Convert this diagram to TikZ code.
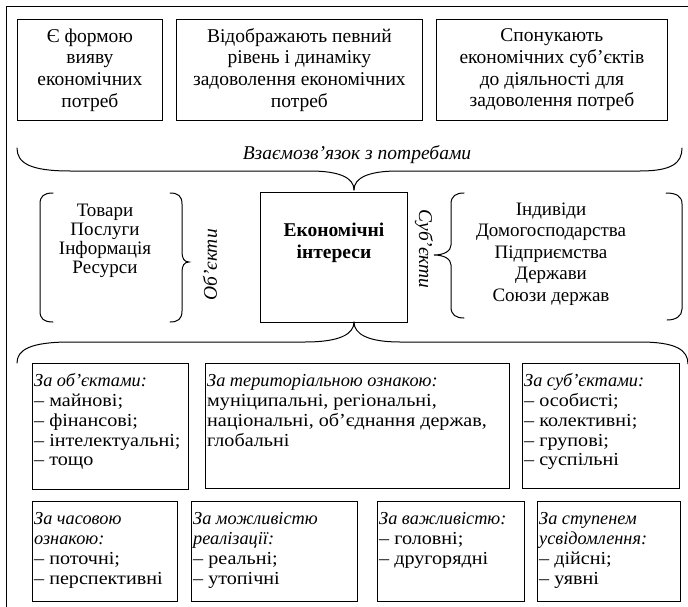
\documentclass[tikz,border=0pt]{standalone}
\usepackage{fontspec}
\setmainfont{Liberation Serif}
\newfontfamily\widefont{Liberation Serif}[FakeStretch=1.1]
\newcommand\cathead[1]{{\rmfamily\itshape #1}}
\usetikzlibrary{calc}
\begin{document}
\begin{tikzpicture}[x=1pt,y=-1pt,
  frame/.style={line width=1pt},
  box/.style={draw, line width=0.8pt, inner sep=0pt, anchor=north west},
  topbox/.style={box, align=center, font=\fontsize{19.5}{21.7}\selectfont},
  catbox/.style={box},
  cattext/.style={anchor=north west, inner sep=0pt, align=left,
    font=\widefont\fontsize{18.3}{19.7}\selectfont},
  listtext/.style={align=center, inner sep=0pt},
  sidelabel/.style={font=\fontsize{19.5}{21}\selectfont\itshape, inner sep=0pt},
  brace/.style={line width=1pt, line cap=round}
]
\useasboundingbox (0,0) rectangle (688,607);
\clip (0,0) rectangle (688,607);
\draw[frame] (6,7) rectangle (700,620);

% upper row: how interests relate to needs
\node[topbox, minimum width=145, minimum height=101] (b1) at (17,19)
  {Є формою\\вияву\\економічних\\потреб};
\node[topbox, minimum width=246, minimum height=101] (b2) at (176,19)
  {Відображають певний\\рівень і динаміку\\задоволення економічних\\потреб};
\node[topbox, minimum width=231, minimum height=101] (b3) at (436,19)
  {Спонукають\\економічних суб’єктів\\до діяльності для\\задоволення потреб};

\node[sidelabel] (rel) at (357,155) {Взаємозв’язок з потребами};

% central concept
\node[box, minimum width=147, minimum height=130] (ei) at (260,192) {};
\node[listtext, font=\fontsize{19.5}{22}\selectfont\bfseries] (eit) at (334,243)
  {Економічні\\інтереси};

\coordinate (ttip) at (354,190);
\coordinate (btip) at (354,322);

% brace above the centre
\draw[brace] (17,148) .. controls (17,163) and (30,171) .. (70,171)
  -- (310,171) .. controls (340,171) and (354,178) .. (ttip);
\draw[brace] (ttip) .. controls (354,178) and (368,171) .. (398,171)
  -- (640,171) .. controls (672,171) and (682,163) .. (682,148);

% brace below the centre
\draw[brace] (btip) .. controls (354,334) and (340,342) .. (305,342)
  -- (70,342) .. controls (30,342) and (17,350) .. (17,363);
\draw[brace] (btip) .. controls (354,334) and (368,342) .. (400,342)
  -- (640,342) .. controls (676,342) and (688,350) .. (688,364);

% objects
\node[listtext, font=\fontsize{19}{19.2}\selectfont] (objs) at (105,241)
  {Товари\\Послуги\\Інформація\\Ресурси};
\draw[brace] (53,193) .. controls (44,193) and (40,196) .. (40,204)
  -- (40,311) .. controls (40,319) and (44,322) .. (53,322);
\coordinate (otip) at (189,262);
\draw[brace] (170,193) .. controls (178,193) and (182,196) .. (182,204)
  -- (182,252) .. controls (182,258) and (184,262) .. (otip)
  .. controls (184,262) and (182,266) .. (182,272)
  -- (182,311) .. controls (182,319) and (178,322) .. (170,322);
\node[sidelabel, rotate=90] (objl) at (210,265) {Об’єкти};

% subjects
\node[sidelabel, rotate=-90] (subl) at (424,249) {Суб’єкти};
\coordinate (stip) at (434,255);
\draw[brace] (464,193) .. controls (456,193) and (451,196) .. (451,204)
  -- (451,245) .. controls (451,251) and (444,255) .. (stip)
  .. controls (444,255) and (451,259) .. (451,265)
  -- (451,307) .. controls (451,315) and (456,318) .. (464,318);
\draw[brace] (666,193) .. controls (676,193) and (682,196) .. (682,204)
  -- (682,309) .. controls (682,316) and (676,320) .. (667,320);
\node[listtext, font=\fontsize{19}{21.5}\selectfont] (subs) at (551,254)
  {Індивіди\\Домогосподарства\\Підприємства\\Держави\\Союзи держав};

% classification boxes, first row
\node[catbox, minimum width=156, minimum height=126] (ca) at (32,363) {};
\node[cattext] (cat) at ($(ca.north west)+(2,10)$)
  {\strut\cathead{За об’єктами:}\\– майнові;\\– фінансові;\\– інтелектуальні;\\– тощо};
\node[catbox, minimum width=304, minimum height=125] (cb) at (205,363) {};
\node[cattext] (cbt) at ($(cb.north west)+(2,10)$)
  {\strut\cathead{За територіальною ознакою:}\\муніципальні, регіональні,\\національні, об’єднання держав,\\глобальні};
\node[catbox, minimum width=157, minimum height=125] (cc) at (522,363) {};
\node[cattext] (cct) at ($(cc.north west)+(2,10)$)
  {\strut\cathead{За суб’єктами:}\\– особисті;\\– колективні;\\– групові;\\– суспільні};

% classification boxes, second row
\node[catbox, minimum width=145, minimum height=100] (cd) at (32,501) {};
\node[cattext] (cdt) at ($(cd.north west)+(2,10)$)
  {\strut\cathead{За часовою}\\\cathead{ознакою:}\\– поточні;\\– перспективні};
\node[catbox, minimum width=166, minimum height=100] (ce) at (191,501) {};
\node[cattext] (cet) at ($(ce.north west)+(2,10)$)
  {\strut\cathead{За можливістю}\\\cathead{реалізації:}\\– реальні;\\– утопічні};
\node[catbox, minimum width=147, minimum height=100] (cf) at (377,501) {};
\node[cattext] (cft) at ($(cf.north west)+(2,10)$)
  {\strut\cathead{За важливістю:}\\– головні;\\– другорядні};
\node[catbox, minimum width=143, minimum height=100] (cg) at (537,501) {};
\node[cattext] (cgt) at ($(cg.north west)+(2,10)$)
  {\strut\cathead{За ступенем}\\\cathead{усвідомлення:}\\– дійсні;\\– уявні};
\end{tikzpicture}
\end{document}
